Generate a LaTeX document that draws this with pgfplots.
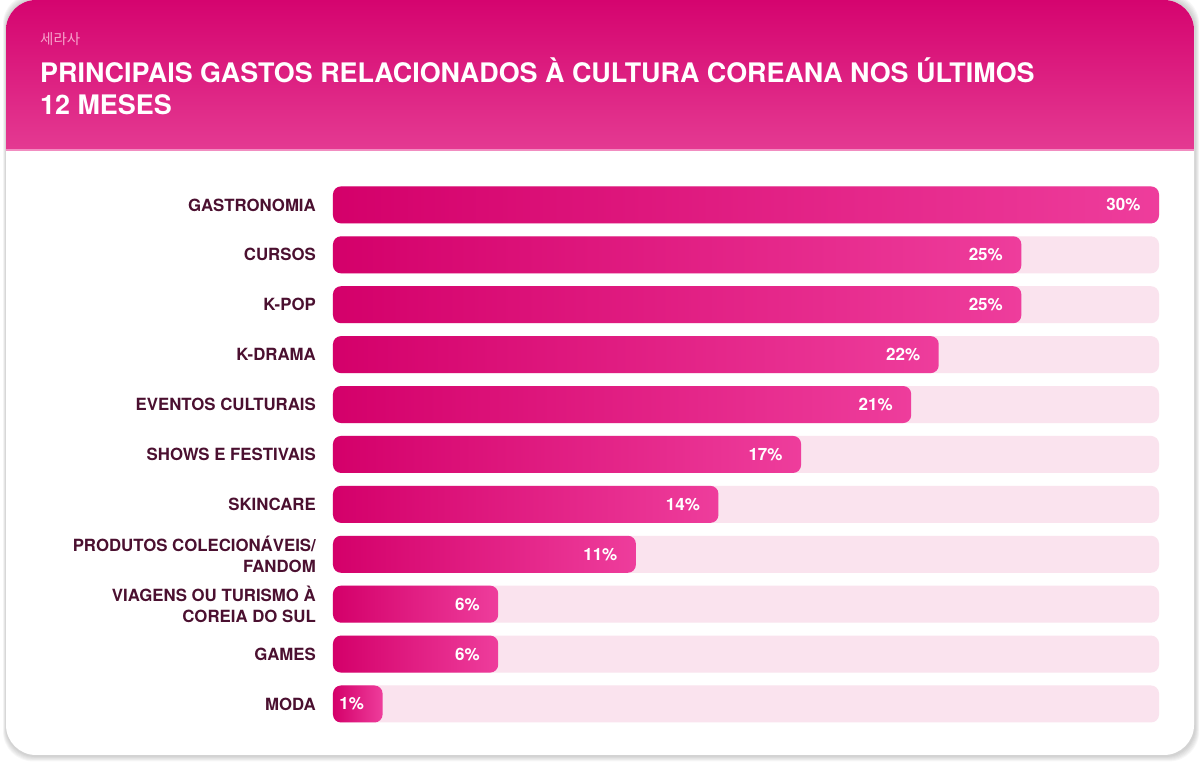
\documentclass[border=0pt]{standalone}
\usepackage{pgfplots}
\pgfplotsset{compat=1.18}
\usepackage{fontspec}
\setmainfont{TeX Gyre Heros}
\newfontfamily\cjk{Noto Sans CJK KR}
\definecolor{hdA}{HTML}{D5046F}
\definecolor{hdB}{HTML}{E43A92}
\definecolor{barA}{HTML}{D4006A}
\definecolor{barB}{HTML}{EE3D9C}
\definecolor{track}{HTML}{FAE3EE}
\definecolor{lab}{HTML}{4B1030}
\definecolor{kor}{HTML}{F6A3CB}
\definecolor{sep}{HTML}{F28DC1}
\pgfplotsset{
  valbar/.style={xbar, bar width=37pt, bar shift=0pt, draw=none, left color=barA, right color=barB, rounded corners=8pt,
    point meta=explicit,
    nodes near coords={\pgfmathprintnumber{\pgfplotspointmeta}\%},
    every node near coord/.append style={anchor=east, xshift=-15pt, text=white, font=\bfseries\fontsize{17}{17}\selectfont}},
}
\begin{document}
\begin{tikzpicture}[x=1pt,y=1pt]
\useasboundingbox (0,0) rectangle (1200,767);
\foreach \i in {1,...,6}{
  \fill[black, opacity=0.03, rounded corners=30] (6-\i*0.5, 12-\i*0.9-1) rectangle (1194+\i*0.7+1, 767+\i);
}
\fill[white, rounded corners=30] (6,12) rectangle (1194,767);
\begin{scope}
\clip[rounded corners=30] (6,12) rectangle (1194,767);
\shade[top color=hdA, bottom color=hdB] (6,617) rectangle (1194,767);
\end{scope}
\draw[sep, line width=1.2pt] (6,617) -- (1194,617);
\node[anchor=base west, inner sep=0, text=kor, font=\cjk\fontsize{14.5}{14.5}\selectfont] at (40,722) {세라사};
\node[anchor=base west, inner sep=0, text=white, font=\bfseries\fontsize{26.9}{32}\selectfont] at (40,684) {PRINCIPAIS GASTOS RELACIONADOS À CULTURA COREANA NOS ÚLTIMOS};
\node[anchor=base west, inner sep=0, text=white, font=\bfseries\fontsize{26.9}{32}\selectfont] at (40,652) {12 MESES};
\begin{axis}[
  at={(333pt,38.05pt)}, anchor=south west, scale only axis,
  width=826pt, height=549pt,
  xmin=0, xmax=30, ymin=-0.5, ymax=10.5, y dir=reverse,
  axis line style={draw=none}, clip=false,
  xtick=\empty, ytick={0,...,10}, major tick length=0pt,
  /pgf/number format/assume math mode=true,
  yticklabels={GASTRONOMIA, CURSOS, K-POP, K-DRAMA, EVENTOS CULTURAIS, SHOWS E FESTIVAIS, SKINCARE, {PRODUTOS COLECIONÁVEIS/\\FANDOM}, {VIAGENS OU TURISMO À\\COREIA DO SUL}, GAMES, MODA},
  yticklabel style={font=\bfseries\fontsize{16.8}{20.5}\selectfont, text=lab, align=right, inner sep=0pt, xshift=-17pt},
]
% background tracks
\addplot[xbar, bar width=37pt, bar shift=0pt, draw=none, fill=track, rounded corners=8pt]
  coordinates {(30,0) (30,1) (30,2) (30,3) (30,4) (30,5) (30,6) (30,7) (30,8) (30,9) (30,10)};
% value bars (one plot each, so each bar gets its own gradient); MODA drawn at its minimum displayed length
\addplot[valbar] coordinates {(30,0) [30]};
\addplot[valbar] coordinates {(25,1) [25]};
\addplot[valbar] coordinates {(25,2) [25]};
\addplot[valbar] coordinates {(22,3) [22]};
\addplot[valbar] coordinates {(21,4) [21]};
\addplot[valbar] coordinates {(17,5) [17]};
\addplot[valbar] coordinates {(14,6) [14]};
\addplot[valbar] coordinates {(11,7) [11]};
\addplot[valbar] coordinates {(6,8) [6]};
\addplot[valbar] coordinates {(6,9) [6]};
\addplot[valbar] coordinates {(1.8,10) [1]};
\end{axis}
\end{tikzpicture}
\end{document}
